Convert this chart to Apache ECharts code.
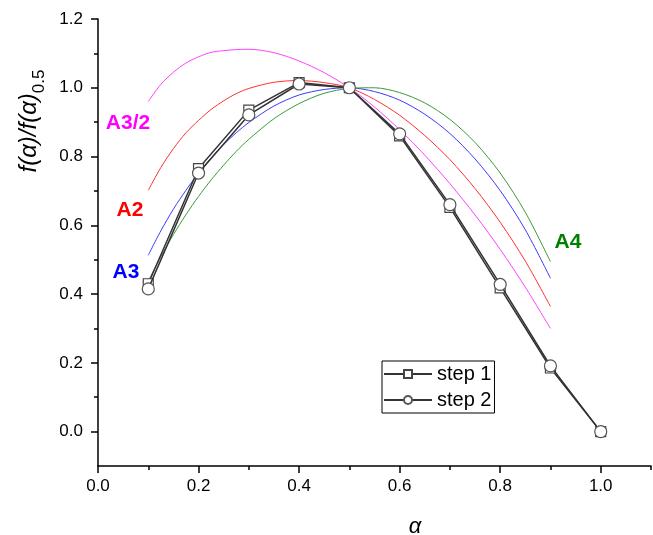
<!DOCTYPE html>
<html>
<head>
<meta charset="utf-8">
<script src="https://cdn.jsdelivr.net/npm/echarts@6/dist/echarts.min.js"></script>
<style>
html,body{margin:0;padding:0;background:#fff;}
#chart{width:653px;height:535px;}
</style>
</head>
<body>
<div id="chart"></div>
<script>
// ---- data ----
var alpha = [0.1, 0.2, 0.3, 0.4, 0.5, 0.6, 0.7, 0.8, 0.9, 1.0];
var step1 = [0.43, 0.765, 0.935, 1.015, 1.0, 0.86, 0.652, 0.418, 0.185, 0.0];
var step2 = [0.415, 0.752, 0.921, 1.011, 1.0, 0.866, 0.66, 0.428, 0.191, 0.0];

var curveAlpha = [0.1, 0.125, 0.15, 0.175, 0.2, 0.225, 0.25, 0.275, 0.3, 0.35, 0.4, 0.45, 0.5, 0.55, 0.6, 0.65, 0.7, 0.75, 0.8, 0.85, 0.9];
var curveA32 = [0.960, 1.010, 1.045, 1.072, 1.090, 1.103, 1.108, 1.111, 1.112, 1.102, 1.078, 1.044, 1.000, 0.944, 0.878, 0.804, 0.721, 0.630, 0.530, 0.420, 0.300];
var curveA2  = [0.702, 0.768, 0.823, 0.869, 0.905, 0.937, 0.962, 0.983, 0.998, 1.016, 1.021, 1.015, 1.000, 0.966, 0.920, 0.861, 0.791, 0.707, 0.609, 0.496, 0.364];
var curveA3  = [0.513, 0.584, 0.647, 0.702, 0.752, 0.796, 0.835, 0.869, 0.899, 0.947, 0.979, 0.995, 1.000, 0.989, 0.964, 0.923, 0.867, 0.793, 0.701, 0.587, 0.446];
var curveA4  = [0.438, 0.509, 0.573, 0.631, 0.684, 0.732, 0.775, 0.815, 0.850, 0.910, 0.954, 0.984, 0.998, 1.000, 0.986, 0.956, 0.908, 0.841, 0.752, 0.638, 0.494];

var xMajorTicks = [0, 0.2, 0.4, 0.6, 0.8, 1.0];
var xMinorTicks = [0.1, 0.3, 0.5, 0.7, 0.9, 1.1];
var yMajorTicks = [0, 0.2, 0.4, 0.6, 0.8, 1.0, 1.2];
var yMinorTicks = [0.1, 0.3, 0.5, 0.7, 0.9, 1.1];

var curveNames = ['A3/2', 'A2', 'A3', 'A4'];
var stepNames = ['step 1', 'step 2'];

function zip(xs, ys) { return xs.map(function (x, i) { return [x, ys[i]]; }); }

var FONT = 'Liberation Sans, Arial, sans-serif';
var axisLineStyle = { color: '#000', width: 1.5 };

function makeAxis(min, max, pos, ticks, len, showLine, showLabel, margin) {
  return {
    type: 'value', min: min, max: max, position: pos, gridIndex: 0,
    axisLine: { show: showLine, onZero: false, lineStyle: axisLineStyle },
    axisTick: { show: true, inside: false, length: len, customValues: ticks, lineStyle: axisLineStyle },
    axisLabel: { show: showLabel, customValues: ticks, margin: margin, color: '#000',
                 fontSize: 17, fontFamily: FONT,
                 formatter: function (v) { return (+v).toFixed(1); } },
    splitLine: { show: false }
  };
}

var chart = echarts.init(document.getElementById('chart'), null, { renderer: 'canvas' });

var curveColors = ['#ff40ff', '#ff3030', '#3a3aff', '#3a9a3a'];
var curveData = [curveA32, curveA2, curveA3, curveA4];

var series = curveData.map(function (d, i) {
  return {
    name: curveNames[i], type: 'line', smooth: 0.3, showSymbol: false,
    data: zip(curveAlpha, d),
    lineStyle: { color: curveColors[i], width: 1 },
    itemStyle: { color: curveColors[i] }, z: 2
  };
});
series.push({
  name: stepNames[0], type: 'line', data: zip(alpha, step1),
  symbol: 'rect', symbolSize: 10,
  lineStyle: { color: '#333', width: 1.5 },
  itemStyle: { color: '#fff', borderColor: '#444', borderWidth: 1.2 }, z: 3
});
series.push({
  name: stepNames[1], type: 'line', data: zip(alpha, step2),
  symbol: 'circle', symbolSize: 12,
  lineStyle: { color: '#333', width: 1.5 },
  itemStyle: { color: '#fff', borderColor: '#555', borderWidth: 1.2 }, z: 4
});

function label(text, x, y, color) {
  return { type: 'text', x: x, y: y, z: 10,
    style: { text: text, fill: color, fontSize: 21, fontWeight: 'bold', fontFamily: FONT,
             align: 'center', verticalAlign: 'middle' } };
}

chart.setOption({
  animation: false,
  backgroundColor: '#fff',
  grid: { left: 98, right: 2, top: 19, bottom: 69, containLabel: false },
  xAxis: [
    makeAxis(0, 1.1, 'bottom', xMajorTicks, 7, true, true, 12),
    makeAxis(0, 1.1, 'bottom', xMinorTicks, 4, false, false, 12)
  ],
  yAxis: [
    makeAxis(-0.1, 1.2, 'left', yMajorTicks, 7, true, true, 15),
    makeAxis(-0.1, 1.2, 'left', yMinorTicks, 4, false, false, 15)
  ],
  legend: {
    data: stepNames, orient: 'vertical', left: 382, top: 361,
    borderColor: '#000', borderWidth: 1, padding: [3, 3, 3, 1],
    itemGap: 6, itemWidth: 48, itemHeight: 10,
    textStyle: { fontSize: 20, color: '#000', fontFamily: FONT }
  },
  graphic: [
    label('A3/2', 128, 123, '#ff00ff'),
    label('A2', 130, 210, '#ff0000'),
    label('A3', 126, 272, '#0000ff'),
    label('A4', 568, 242, '#008000'),
    { type: 'text', x: 31, y: 121, rotation: Math.PI / 2, z: 10,
      style: { text: '{i|f(α)/f(α)}{s|0.5}', align: 'center', verticalAlign: 'middle', fill: '#000',
        rich: {
          i: { fontSize: 24, fontStyle: 'italic', fontFamily: FONT, lineHeight: 28, verticalAlign: 'top', fill: '#000' },
          s: { fontSize: 17, fontFamily: FONT, lineHeight: 17, padding: [14, 0, 0, 0], verticalAlign: 'top', fill: '#000' }
        } } },
    { type: 'text', x: 415, y: 527, z: 10,
      style: { text: 'α', fontSize: 22, fontStyle: 'italic', fontFamily: FONT, fill: '#000',
               align: 'center', verticalAlign: 'middle' } }
  ],
  series: series
});
</script>
</body>
</html>
